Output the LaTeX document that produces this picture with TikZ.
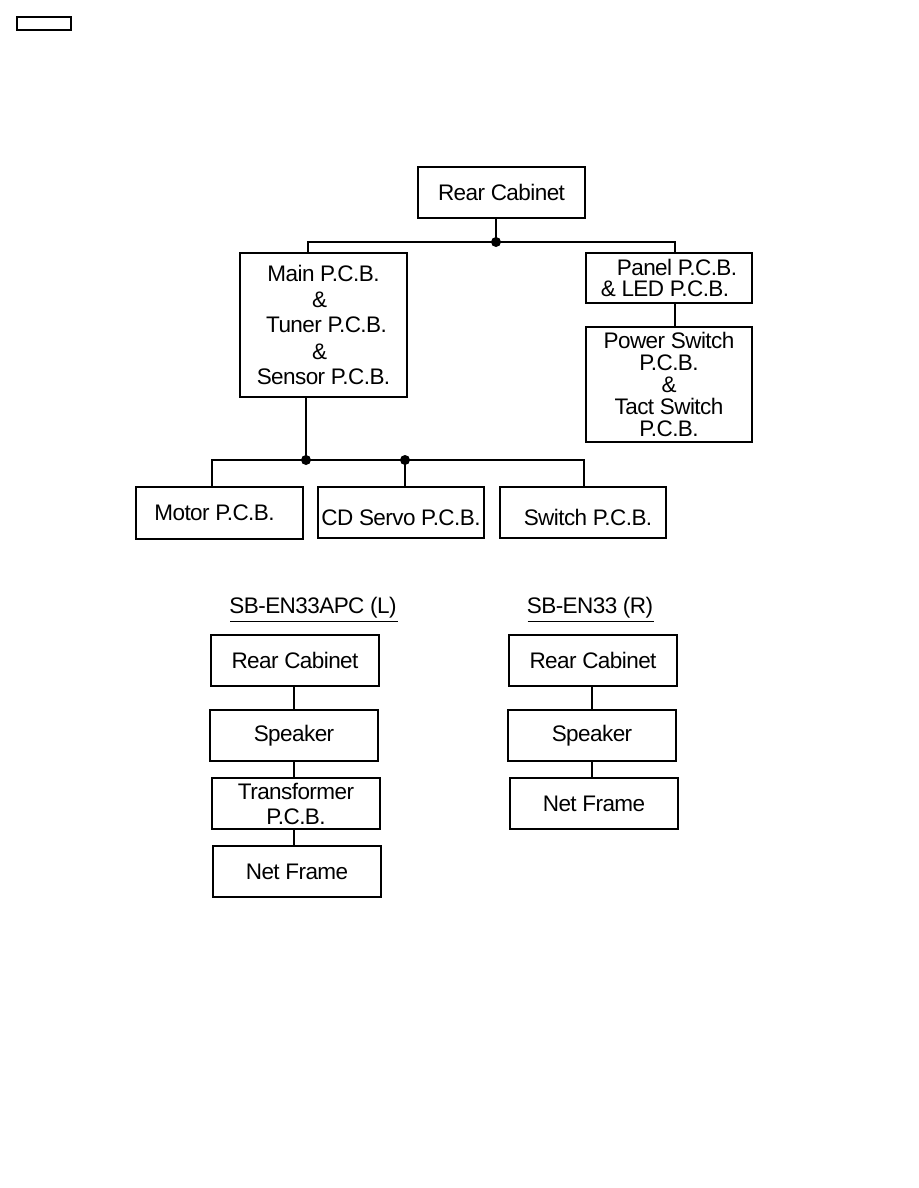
\documentclass[tikz,border=0pt]{standalone}
\usepackage{fontspec}
\setmainfont{Liberation Sans}[LetterSpace=-2.5]
\begin{document}
\begin{tikzpicture}[x=1pt,y=-1pt,
  box/.style={draw, line width=1.5pt, inner sep=0pt, align=center, font=\fontsize{22.5}{24}\selectfont},
  conn/.style={line width=1.5pt},
  dot/.style={circle, fill, inner sep=0pt, minimum size=10pt},
  title/.style={inner sep=0pt, font=\fontsize{22.5}{24}\selectfont}]
\useasboundingbox (0,0) rectangle (918,1188);
% small frame top-left
\node[draw, line width=1.2pt, minimum width=54pt, minimum height=13pt, inner sep=0pt] (tag) at (44,23.5) {};
% upper tree
\node[box, minimum width=167pt, minimum height=51pt] (rc) at (501.5,192.5) {Rear Cabinet};
\node[box, minimum width=167pt, minimum height=144pt, font=\fontsize{22.5}{25.5}\selectfont] (main) at (323.5,325) {Main P.C.B.\\[0pt]\hspace*{-8pt}\&\\\hspace*{6pt}Tuner P.C.B.\\[1pt]\hspace*{-8pt}\&\\Sensor P.C.B.};
\node[box, minimum width=166pt, minimum height=50pt, font=\fontsize{22.5}{21.5}\selectfont] (panel) at (669,278) {\hspace*{16pt}Panel P.C.B.\\\hspace*{-8pt}\& LED P.C.B.};
\node[box, minimum width=166pt, minimum height=115pt, font=\fontsize{22.5}{22}\selectfont] (power) at (669,384.5) {Power Switch\\P.C.B.\\\&\\Tact Switch\\P.C.B.};
\node[box, minimum width=167pt, minimum height=52pt] (motor) at (219.5,513) {\hspace*{-10pt}Motor P.C.B.};
\node[box, minimum width=166pt, minimum height=51pt] (cd) at (401,512.5) {\raisebox{-13pt}[0pt][0pt]{CD Servo P.C.B.}};
\node[box, minimum width=166pt, minimum height=51pt] (sw) at (583,512.5) {\raisebox{-13pt}[0pt][0pt]{\hspace*{10pt}Switch P.C.B.}};
\coordinate (j1) at (496,242);
\coordinate (bl) at (308,242);
\coordinate (br) at (675,242);
\coordinate (j2) at (306,460);
\coordinate (j3) at (405,460);
\coordinate (cl) at (212,460);
\coordinate (cr) at (584,460);
\draw[conn] (rc.south -| j1) -- (j1);
\draw[conn] (bl |- main.north) -- (bl) -- (br) -- (br |- panel.north);
\draw[conn] (panel.south -| br) -- (power.north -| br);
\draw[conn] (main.south -| j2) -- (j2);
\draw[conn] (cl |- motor.north) -- (cl) -- (cr) -- (cr |- sw.north);
\draw[conn] (j3) -- (j3 |- cd.north);
\node[dot] (d1) at (j1) {};
\node[dot] (d2) at (j2) {};
\node[dot] (d3) at (j3) {};
% speakers
\node[title] (t1) at (313,608) {SB-EN33APC (L)};
\node[title] (t2) at (590,608) {SB-EN33 (R)};
\draw[line width=1.2pt] ([xshift=1pt,yshift=-2.5pt]t1.south west) -- ([xshift=1pt,yshift=-2.5pt]t1.south east);
\draw[line width=1.2pt] ([xshift=1pt,yshift=-2.5pt]t2.south west) -- ([xshift=1pt,yshift=-2.5pt]t2.south east);
\node[box, minimum width=168pt, minimum height=51pt] (lrc) at (295,660.5) {Rear Cabinet};
\node[box, minimum width=168pt, minimum height=51pt] (lsp) at (294,735.5) {\raisebox{-2pt}{Speaker}};
\node[box, minimum width=168pt, minimum height=51pt, font=\fontsize{22.5}{25}\selectfont] (ltr) at (296,803.5) {Transformer\\P.C.B.};
\node[box, minimum width=168pt, minimum height=51pt] (lnf) at (297,871.5) {Net Frame};
\node[box, minimum width=168pt, minimum height=51pt] (rrc) at (593,660.5) {Rear Cabinet};
\node[box, minimum width=168pt, minimum height=51pt] (rsp) at (592,735.5) {\raisebox{-2pt}{Speaker}};
\node[box, minimum width=168pt, minimum height=51pt] (rnf) at (594,803.5) {Net Frame};
\coordinate (lx) at (294,0);
\coordinate (rx) at (592,0);
\draw[conn] (lrc.south -| lx) -- (lsp.north -| lx);
\draw[conn] (lsp.south -| lx) -- (ltr.north -| lx);
\draw[conn] (ltr.south -| lx) -- (lnf.north -| lx);
\draw[conn] (rrc.south -| rx) -- (rsp.north -| rx);
\draw[conn] (rsp.south -| rx) -- (rnf.north -| rx);
\end{tikzpicture}
\end{document}
